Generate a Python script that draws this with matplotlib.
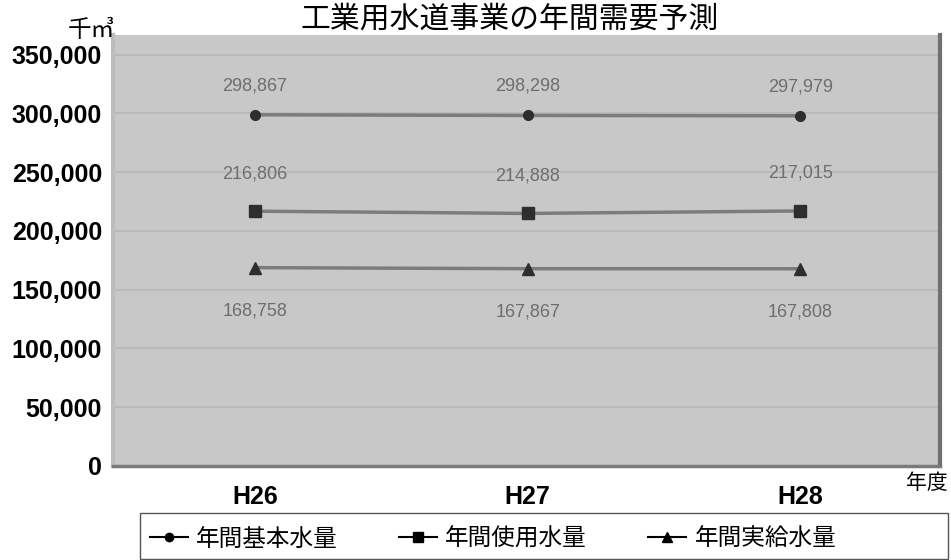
import matplotlib
matplotlib.use('Agg')
import matplotlib.pyplot as plt
from matplotlib.lines import Line2D
from matplotlib.patches import Rectangle
import numpy as np

plt.rcParams['font.family'] = ['Liberation Sans', 'Noto Sans CJK JP', 'DejaVu Sans']

# Data (thousand m3)
years = ['H26', 'H27', 'H28']
kihon = [298867, 298298, 297979]    # 年間基本水量
shiyou = [216806, 214888, 217015]   # 年間使用水量
jikkyu = [168758, 167867, 167808]   # 年間実給水量

series_names = ['年間基本水量', '年間使用水量', '年間実給水量']
y_ticks = np.arange(0, 350001, 50000)

JP = ['Noto Sans CJK JP', 'DejaVu Sans']

fig = plt.figure(figsize=(9.51, 5.60), dpi=100)
ax = fig.add_axes([0.119, 0.168, 0.869, 0.770])

x = np.arange(len(years))
ax.set_facecolor('#c8c8c8')

# faint scan-like streaks at the major ticks
for t in y_ticks[1:]:
    ax.axhline(t, color='#bababa', linewidth=1.5, zorder=1)

line_color = '#7c7c7c'
mark_color = '#2e2e2e'
ax.plot(x, kihon, color=line_color, linewidth=2.5, marker='o', markersize=7,
        markerfacecolor=mark_color, markeredgecolor=mark_color, zorder=3)
ax.plot(x, shiyou, color=line_color, linewidth=2.5, marker='s', markersize=9,
        markerfacecolor=mark_color, markeredgecolor=mark_color, zorder=3)
ax.plot(x, jikkyu, color=line_color, linewidth=2.5, marker='^', markersize=8,
        markerfacecolor=mark_color, markeredgecolor=mark_color, zorder=3)

# data labels
label_color = '#6e6e6e'
for xi, v in zip(x, kihon):
    ax.annotate(f'{v:,}', (xi, v), xytext=(0, 21), textcoords='offset points',
                ha='center', va='center', fontsize=13, color=label_color)
for xi, v in zip(x, shiyou):
    ax.annotate(f'{v:,}', (xi, v), xytext=(0, 27), textcoords='offset points',
                ha='center', va='center', fontsize=13, color=label_color)
for xi, v in zip(x, jikkyu):
    ax.annotate(f'{v:,}', (xi, v), xytext=(0, -31), textcoords='offset points',
                ha='center', va='center', fontsize=13, color=label_color)

ax.set_xlim(-0.52, 2.51)
ax.set_ylim(0, 367000)
ax.set_yticks(y_ticks)
ax.set_yticklabels([f'{t:,}' for t in y_ticks], fontsize=18, fontweight='bold')
ax.set_xticks(x)
ax.set_xticklabels(years, fontsize=18, fontweight='bold')
ax.tick_params(axis='both', length=0)
ax.tick_params(axis='x', pad=14)
ax.tick_params(axis='y', pad=8)

ax.spines['top'].set_visible(False)
ax.spines['left'].set_color('#bdbdbd')
ax.spines['left'].set_linewidth(3)
ax.spines['right'].set_color('#707070')
ax.spines['right'].set_linewidth(3)
ax.spines['bottom'].set_color('#7a7a7a')
ax.spines['bottom'].set_linewidth(2.5)

fig.text(0.536, 0.966, '工業用水道事業の年間需要予測', ha='center', va='center',
         fontsize=21.5, family=JP)
fig.text(0.096, 0.945, '千㎥', ha='center', va='center', fontsize=17, family=JP)
fig.text(0.975, 0.138, '年度', ha='center', va='center', fontsize=15, family=JP)

# legend box spanning to the right edge, as in the original
fig.patches.append(Rectangle((140 / 951, 0.002), 808 / 951, 46 / 560,
                             transform=fig.transFigure, fill=False,
                             edgecolor='#555555', linewidth=1.0))

handles = [
    Line2D([], [], color='black', linewidth=1.5, marker='o', markersize=6),
    Line2D([], [], color='black', linewidth=1.5, marker='s', markersize=7),
    Line2D([], [], color='black', linewidth=1.5, marker='^', markersize=7),
]
fig.legend(handles, series_names, loc='center left',
           bbox_to_anchor=(150 / 951, 1 - 539 / 560),
           ncol=3, frameon=False, handlelength=1.6, handletextpad=0.35,
           columnspacing=2.6, borderaxespad=0.0, borderpad=0.0,
           prop={'family': JP, 'size': 17})

fig.savefig('out.png', dpi=100, facecolor='white')
